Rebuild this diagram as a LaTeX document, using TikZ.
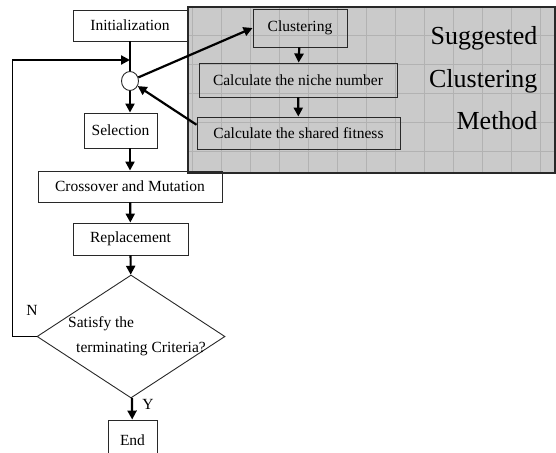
\documentclass[tikz,border=0pt]{standalone}
\usepackage{fontspec}
\setmainfont{Liberation Serif}
\usetikzlibrary{
  arrows.meta,
  positioning,
  shapes.geometric,
  calc
}
\definecolor{panelgray}{RGB}{202,202,202}
\definecolor{gridgray}{RGB}{178,178,178}
\definecolor{boxline}{RGB}{40,40,40}
\newcommand{\flowfont}{\fontsize{15.5}{18}\selectfont}
\newcommand{\bigfont}{\fontsize{26}{30}\selectfont}

\tikzset{
  flowbox/.style={draw=boxline, line width=0.9pt, font=\flowfont, inner sep=0pt},
  flowarrow/.style={-{Triangle[length=9pt,width=9pt]}, line width=2.2pt},
  gridline/.style={gridgray, line width=0.5pt}
}

\begin{document}
\begin{tikzpicture}[x=1pt, y=-1pt]
  \clip (0,0) rectangle (556,452);

  % suggested clustering panel
  \fill[panelgray] (188,7) rectangle (555,173);
  \foreach \gx in {192,221,...,540} \draw[gridline] (\gx,7) -- (\gx,173);
  \foreach \gy in {35,64,...,160} \draw[gridline] (188,\gy) -- (555,\gy);
  \draw[line width=2.5pt, boxline] (188,7) rectangle (555,173);

  \node[flowbox, minimum width=94pt, minimum height=38pt] (clu) at (300,28) {Clustering};
  \node[flowbox, minimum width=198pt, minimum height=34pt] (niche) at (298,80) {Calculate the niche number};
  \node[flowbox, minimum width=203pt, minimum height=32pt] (shr) at (298.5,133) {Calculate the shared fitness};
  \node[font=\bigfont, anchor=base east] (sug) at (541,45) {Suggested};
  \node[font=\bigfont, anchor=base east] (clm) at (541,87) {Clustering};
  \node[font=\bigfont, anchor=base east] (met) at (541,129) {Method};

  \draw[flowarrow] (clu) -- (niche);
  \draw[flowarrow] (niche) -- (shr);

  % main flow
  \node[flowbox, minimum width=114pt, minimum height=31pt] (init) at (130,25.5) {Initialization};
  \node[draw=boxline, line width=0.9pt, ellipse, minimum width=17pt, minimum height=19pt, inner sep=0pt] (circ) at (130,81) {};
  \node[flowbox, minimum width=73pt, minimum height=35pt] (sel) at (120.5,130.5) {Selection};
  \node[flowbox, minimum width=184pt, minimum height=31pt] (cm) at (130,186.5) {Crossover and Mutation};
  \node[flowbox, minimum width=115pt, minimum height=32pt] (rep) at (130.5,239) {Replacement};
  \node[draw=boxline, line width=0.9pt, diamond, minimum width=188pt, minimum height=123pt, inner sep=0pt] (dia) at (131,336.5) {};
  \node[font=\fontsize{15.5}{25}\selectfont, align=left] (crit) at (137,336) {Satisfy the\\\hspace*{8pt}terminating Criteria?};
  \node[flowbox, minimum width=49pt, minimum height=40pt] (end) at (132.5,440) {End};
  \node[font=\flowfont] (lblN) at (32,310) {N};
  \node[font=\flowfont] (lblY) at (148,404) {Y};

  \draw[line width=2.2pt] (init) -- (circ);
  \draw[flowarrow] (circ.south) -- (circ.south |- sel.north);
  \draw[flowarrow] (sel.south -| circ) -- (cm.north -| circ);
  \draw[flowarrow] (cm) -- (rep);
  \draw[flowarrow] (rep) -- (dia);
  \draw[flowarrow] (dia) -- (end);

  % loop back
  \coordinate (lptop) at (12,60);
  \draw[line width=1pt] (dia.west) -- (dia.west -| lptop) -- (lptop);
  \draw[flowarrow] (lptop) -- (lptop -| init);

  % to and from the panel
  \draw[flowarrow] (circ) -- (clu.west);
  \draw[flowarrow] ($(shr.north west)!0.25!(shr.south west)$) -- (circ);
\end{tikzpicture}
\end{document}
